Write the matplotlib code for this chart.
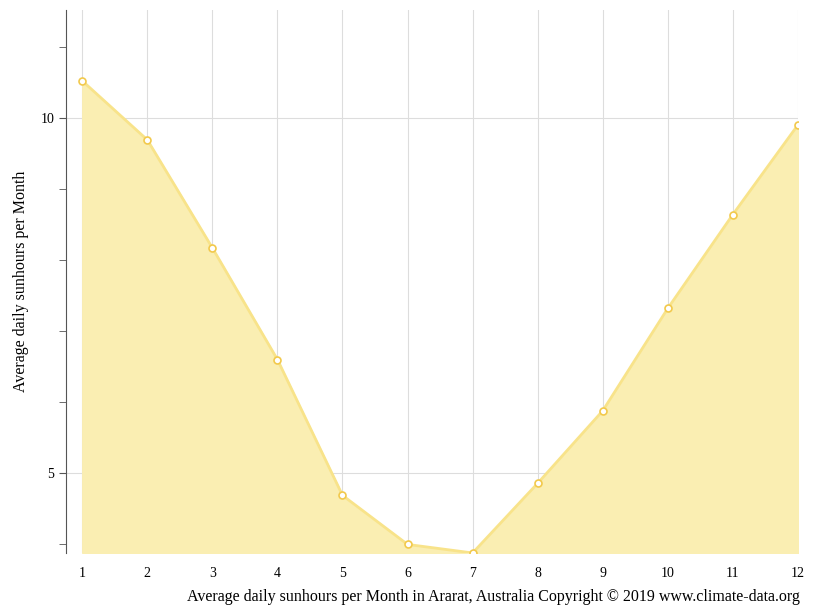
import matplotlib.pyplot as plt
from matplotlib.ticker import MultipleLocator

plt.rcParams["font.family"] = "Liberation Serif"

months = list(range(1, 13))
sunhours = [10.52, 9.69, 8.17, 6.60, 4.69, 4.00, 3.88, 4.86, 5.88, 7.32, 8.64, 9.90]

fig = plt.figure(figsize=(8.15, 6.11), dpi=100)
ax = fig.add_axes([0.081, 0.095, 0.898, 0.889])

ax.fill_between(months, sunhours, 3.88, color="#faeeb2", zorder=1)
ax.plot(months, sunhours, color="#f8e38a", linewidth=2, zorder=2)
ax.plot(months, sunhours, "o", markersize=5, markerfacecolor="white",
        markeredgecolor="#f2c94c", markeredgewidth=1.2, zorder=3)

ax.set_xlim(0.75, 12)
ax.set_ylim(3.88, 11.52)
ax.set_xticks(months)
ax.set_yticks([5, 10])
ax.yaxis.set_minor_locator(MultipleLocator(1))
ax.grid(True, color="#dddddd", linewidth=0.8, zorder=0)
ax.set_axisbelow(True)
for s in ["top", "right", "bottom"]:
    ax.spines[s].set_visible(False)
ax.spines["left"].set_color("#555555")
ax.tick_params(axis="x", length=0, labelsize=10, pad=10)
ax.tick_params(axis="y", which="both", length=5, color="#555555", labelsize=10)

ax.set_ylabel("Average daily sunhours per Month", fontsize=11.5, labelpad=8)
fig.text(0.982, 0.016, "Average daily sunhours per Month in Ararat, Australia Copyright © 2019 www.climate-data.org",
         ha="right", fontsize=11.5)

fig.savefig("out.png")
